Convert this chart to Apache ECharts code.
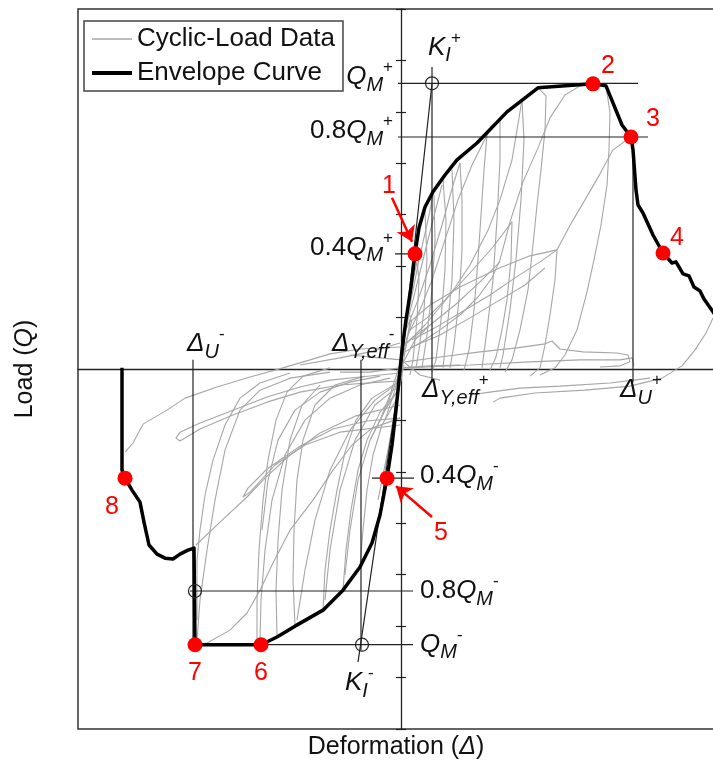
<!DOCTYPE html>
<html><head><meta charset="utf-8">
<script src="https://cdn.jsdelivr.net/npm/echarts@6/dist/echarts.min.js"></script>
<style>html,body{margin:0;padding:0;background:#fff}#c{width:713px;height:761px}</style>
</head><body><div id="c"></div>
<script>
// ---------- data (deformation units, load in % of QM+) ----------
const envelope = [[-27.9,0.4],[-27.9,-35.4],[-27.6,-38.2],[-26.9,-42.4],[-26.1,-46.6],[-25.7,-53.6],[-25.2,-61.6],[-24.4,-64.8],[-23.6,-66.2],[-22.8,-66.5],[-22.1,-64.8],[-21.3,-63.4],[-20.7,-62.7],[-20.6,-96.5],[-14.0,-96.5],[-12.4,-93.8],[-10.6,-90.0],[-7.8,-84.4],[-5.8,-77.4],[-4.1,-69.3],[-2.9,-60.9],[-2.1,-51.1],[-1.4,-38.2],[-0.9,-26.6],[-0.5,-14.4],[-0.2,-3.9],[0.1,6.7],[0.5,17.2],[1.0,28.7],[1.4,40.3],[1.8,49.4],[2.4,56.7],[3.2,62.0],[4.4,67.9],[5.6,73.2],[7.6,79.1],[10.6,90.0],[13.7,98.4],[19.2,99.8],[20.5,99.1],[22.1,85.4],[23.0,81.2],[23.2,76.7],[23.5,62.7],[23.7,57.4],[24.2,54.6],[25.2,46.9],[26.2,40.6],[27.1,37.1],[27.5,37.5],[28.2,33.3],[28.8,32.6],[29.3,28.7],[29.9,27.3],[30.3,24.5],[31.2,20.0],[31.5,18.5]];

const g1 = [[0.4,6.0],[1.9,9.1],[3.9,13.7],[5.9,18.9],[7.7,25.2],[9.1,31.9],[9.9,38.2],[10.9,51.5],[12.2,65.5],[13.7,77.4],[14.9,87.9],[16.4,95.9],[17.9,99.1],[19.2,99.8]];
const g2 = [[20.5,99.1],[20.9,89.6],[20.8,76.7],[20.6,64.4],[20.0,50.4],[19.3,38.2],[18.6,27.0],[17.6,13.7],[16.4,4.9],[15.4,0.4],[13.9,-2.1]];
const g3 = [[13.7,98.4],[14.5,95.6],[14.4,83.7],[14.0,69.7],[13.6,57.4],[13.2,43.4],[12.7,27.7],[11.9,13.7],[11.1,3.2],[10.4,-1.1]];
const g4 = [[1.1,10.2],[3.4,14.4],[5.9,19.6],[8.9,25.9],[11.4,31.9],[13.9,37.5],[15.6,41.7],[17.1,51.5],[18.4,59.2],[19.9,68.3],[21.2,76.7],[23.0,81.2]];
const g5 = [[15.6,41.7],[15.4,31.2],[14.9,18.9],[14.4,8.4],[13.9,0.4],[12.9,-2.5]];
const g6 = [[0.9,13.7],[2.6,17.9],[4.4,24.2],[6.9,33.6],[9.2,42.7],[11.1,51.5]];
const g7 = [[11.1,51.5],[11.0,38.2],[10.6,24.2],[10.1,13.7],[9.5,4.2],[8.9,-0.4]];
const g8 = [[0.9,16.5],[2.9,22.4],[5.9,28.7],[9.9,35.4],[12.9,39.6],[15.6,41.7]];
const g9 = [[0.7,11.9],[1.9,20.7],[3.1,31.2],[4.4,45.2],[5.7,59.2],[7.1,71.4],[8.6,81.9],[9.9,87.9]];
const g10 = [[8.6,81.9],[8.3,69.7],[8.0,53.9],[7.7,38.2],[7.3,20.7],[6.8,6.7],[6.3,-0.4]];
const g11 = [[0.5,13.7],[1.7,24.2],[2.9,36.4],[4.1,50.4],[5.2,64.4],[5.9,72.1]];
const g12 = [[5.9,72.1],[6.1,59.2],[6.1,41.7],[5.8,24.2],[5.3,8.4],[4.9,0.4]];
const g13 = [[0.3,11.9],[1.2,24.2],[2.2,38.2],[3.2,52.2],[4.1,64.4]];
const g14 = [[4.2,66.2],[4.5,52.2],[4.4,34.7],[4.0,17.2],[3.5,3.2],[3.1,-1.1]];
const g15 = [[0.2,10.2],[1.0,24.2],[1.8,38.2],[2.7,52.2],[3.2,60.9]];
const g16 = [[3.3,60.9],[3.4,45.2],[3.1,27.7],[2.6,11.9],[2.1,0.4]];
const g17 = [[0.1,3.2],[0.6,17.2],[1.1,29.4],[1.6,37.5],[1.8,31.2],[1.6,17.2],[1.2,3.2],[0.9,-2.1]];
const g18 = [[0.4,2.5],[3.9,4.2],[7.9,6.0],[11.6,7.4],[14.4,8.8],[15.1,9.8],[15.9,7.0],[18.2,6.0],[21.6,5.6],[22.7,4.9],[22.9,2.5],[21.9,1.1],[19.9,0.7]];
const g19 = [[0.4,0.4],[6.9,1.4],[12.9,2.5],[17.9,3.2],[21.9,3.2],[23.1,3.9],[23.3,1.1]];
const g20 = [[31.2,17.9],[30.5,12.6],[29.4,6.7],[28.1,1.1],[26.1,-3.2],[22.9,-6.0],[18.4,-7.4],[13.4,-8.4],[9.9,-10.2],[9.2,-11.6]];
const g21 = [[24.9,-3.2],[20.9,-4.9],[15.9,-6.0],[11.9,-6.7],[8.9,-8.1],[6.9,-9.1]];
const u1 = [[2.4,55.3],[2.6,38.2],[2.3,20.7],[1.8,6.7],[1.5,0.4]];
const u2 = [[5.1,69.7],[5.3,52.2],[5.1,31.2],[4.6,13.7],[4.2,0.4]];
const u3 = [[9.9,87.9],[9.9,73.2],[9.6,52.2],[9.2,31.2],[8.6,13.7],[8.1,0.4]];
const u4 = [[12.1,94.2],[12.3,80.2],[12.0,59.2],[11.5,38.2],[10.9,20.7],[10.2,4.9],[9.9,0.4]];
const l1 = [[0.4,8.4],[2.4,15.4],[4.9,25.9],[6.9,36.4],[8.7,48.6],[9.9,59.2],[11.1,73.2],[12.1,94.2]];
const f1 = [[0.9,7.4],[3.9,11.9],[6.9,17.9],[9.9,24.2],[12.4,29.4],[14.4,35.4]];
const f2 = [[0.5,9.1],[2.9,15.4],[5.4,22.4],[7.9,30.5],[9.9,37.5]];
const h1 = [[-27.6,-29.1],[-26.8,-25.9],[-25.8,-19.3],[-23.4,-14.4],[-21.6,-10.2],[-18.4,-6.3],[-15.1,-2.8],[-11.8,0.4],[-9.1,3.2],[-7.1,5.3],[-4.1,7.0],[-0.1,7.7]];
const h2 = [[-0.1,-1.4],[-4.1,-2.8],[-7.1,-3.9],[-10.1,-6.3],[-13.4,-9.8],[-16.8,-14.4],[-20.1,-18.9],[-22.1,-22.1],[-22.5,-24.2],[-22.1,-25.2],[-20.1,-21.0],[-16.8,-16.1],[-13.4,-11.6],[-10.1,-8.1],[-6.1,-5.6],[-2.1,-4.6],[-0.1,-4.2]];
const h3 = [[-0.1,-17.2],[-3.4,-18.2],[-6.8,-21.0],[-10.1,-27.0],[-13.4,-35.0],[-15.3,-41.7],[-15.8,-44.8],[-15.1,-43.1],[-12.6,-33.6],[-9.6,-26.6],[-6.1,-22.1],[-0.1,-19.6]];
const h4 = [[-20.6,-96.3],[-19.4,-95.9],[-17.1,-91.4],[-15.4,-85.4],[-14.1,-77.4],[-12.8,-67.9],[-11.1,-56.4],[-8.8,-45.9],[-6.8,-35.4],[-4.9,-26.6],[-2.9,-20.7],[-0.1,-17.2]];
const h5 = [[-14.4,-96.3],[-14.4,-80.9],[-14.2,-63.4],[-13.8,-45.9],[-13.3,-31.9],[-12.5,-17.9],[-11.4,-8.1],[-9.8,-2.5],[-7.1,0.4]];
const h6 = [[-20.4,-87.9],[-20.4,-66.9],[-20.1,-56.4],[-19.6,-44.1],[-18.8,-31.9],[-17.6,-19.6],[-16.1,-10.2],[-14.1,-4.9],[-11.1,-1.4]];
const h7 = [[-20.5,-61.6],[-18.1,-53.6],[-15.4,-44.8],[-13.6,-38.2],[-11.1,-30.1],[-8.1,-22.4],[-4.6,-16.5],[-0.1,-12.6]];
const h8 = [[-7.8,-84.4],[-7.6,-70.4],[-7.1,-56.4],[-6.4,-42.4],[-5.6,-29.1],[-4.5,-17.9],[-2.9,-10.2],[-0.6,-5.3]];
const h9 = [[-5.8,-77.4],[-5.5,-63.4],[-5.0,-49.4],[-4.3,-35.4],[-3.4,-24.9],[-2.1,-15.1],[-0.4,-8.1]];
const h10 = [[-4.1,-69.3],[-3.8,-56.4],[-3.4,-42.4],[-2.8,-30.1],[-1.9,-19.6],[-0.5,-10.9]];
const h11 = [[-0.6,-5.6],[-2.6,-10.9],[-5.1,-21.4],[-7.1,-35.4],[-8.6,-52.9],[-9.6,-70.4],[-10.4,-87.9]];
const h12 = [[-1.1,-3.2],[-4.1,-5.6],[-7.1,-10.2],[-9.6,-17.9],[-11.6,-30.1],[-12.9,-45.9],[-13.6,-63.4],[-14.0,-80.9],[-14.1,-94.9]];
const h13 = [[-7.1,-1.1],[-11.1,-3.2],[-14.1,-7.4],[-16.1,-14.4],[-17.6,-28.4],[-18.6,-45.9],[-19.4,-63.4],[-20.1,-80.9],[-20.4,-94.9]];
const n1 = [[-2.1,-2.5],[-5.1,-4.6],[-8.1,-8.1],[-10.6,-14.4],[-12.3,-24.9],[-13.3,-38.9],[-13.9,-56.4]];
const n2 = [[-10.6,-90.0],[-10.8,-73.9],[-10.7,-56.4],[-10.4,-38.9],[-9.8,-24.9],[-8.6,-12.6],[-6.6,-5.6],[-3.6,-2.5]];
const n3 = [[-12.4,-93.8],[-12.5,-77.4],[-12.3,-59.9],[-11.9,-42.4],[-11.1,-24.9],[-9.9,-12.6],[-8.1,-5.6]];
const n4 = [[-0.3,-7.4],[-1.6,-14.4],[-3.1,-24.9],[-4.3,-38.9],[-5.1,-56.4],[-5.6,-72.1]];
const n5 = [[-0.5,-6.7],[-2.6,-12.6],[-4.6,-24.9],[-6.1,-42.4],[-7.1,-63.4],[-7.6,-80.9]];
const p1 = [[-10.1,1.4],[-6.1,3.9],[-3.1,6.0],[-0.1,9.1]];
const o1 = [[-2.1,-17.9],[-1.1,-9.1],[-0.3,-0.4],[0.4,8.4],[1.1,17.2],[0.7,11.9],[0.1,3.2],[-0.6,-7.4],[-1.6,-17.9]];
const o2 = [[-3.1,-24.9],[-1.6,-14.4],[-0.6,-5.6],[0.1,1.4],[1.4,10.2],[2.9,15.4]];
const o3 = [[-6.1,-1.1],[-3.1,-1.1],[-0.1,0.4],[2.9,1.1],[5.9,1.4]];
const o4 = [[-5.1,4.9],[-2.1,3.9],[0.0,3.2],[1.9,-2.1],[3.9,-3.9]];
const o5 = [[-1.6,-35.4],[-1.1,-24.9],[-0.5,-10.9],[0.1,-0.4],[0.6,10.2],[1.0,18.9]];
const o6 = [[-2.3,-45.9],[-1.7,-35.4],[-0.9,-21.4],[-0.3,-9.1],[0.3,1.4]];
const cyclic = [g1,g2,g3,g4,g5,g6,g7,g8,g9,g10,g11,g12,g13,g14,g15,g16,g17,g18,g19,g20,g21,u1,u2,u3,u4,l1,f1,f2,
  h1,h2,h3,h4,h5,h6,h7,h8,h9,h10,h11,h12,h13,n1,n2,n3,n4,n5,p1,o1,o2,o3,o4,o5,o6];

// key points 1..8
const keyNames = ['1','2','3','4','5','6','7','8'];
const keyPoints = [[1.4,40.3],[19.2,99.8],[23.0,81.2],[26.2,40.6],[-1.4,-38.2],[-14.0,-96.5],[-20.6,-96.5],[-27.6,-38.2]];
const keyLabelAt = [[-1.2,64.1],[20.7,106.1],[25.2,87.5],[27.6,45.9],[4.0,-57.4],[-14.0,-106.4],[-20.6,-106.4],[-28.9,-48.3]];
const arrows = [[[-0.9,59.9],[1.1,44.5]],[[3.1,-51.8],[-0.5,-41.0]]];

// guide lines
const levelLines = [[[-0.3,100],[23.7,100]],[[-0.3,81.2],[24.7,81.2]],[[-0.6,40.3],[0.7,40.3]],[[-2.9,-38.2],[1.3,-38.2]],[[-21.1,-77.7],[1.2,-77.7]],[[-20.6,-96.5],[1.2,-96.5]]];
const deltaLines = [[[3.1,105.7],[3.1,-4.6]],[[23.2,81.2],[23.2,-4.6]],[[-20.8,3.2],[-20.8,-96.5]],[[-4.0,3.2],[-4.0,-98.4]]];
const stiffLines = [[[0,0],[3.1,100]],[[0,0],[-4.3,-102.6]]];
const circlePts = [[3.1,100],[-20.6,-77.7],[-3.9,-96.5]];

// text annotations: [rich text, d, Q, side]
const annoTexts = [
  ['{i|Q}{sb|M}{sp|+}', -0.8, 102.2, 'left'],
  ['{n|0.8}{i|Q}{sb|M}{sp|+}', -0.8, 83.3, 'left'],
  ['{n|0.4}{i|Q}{sb|M}{sp|+}', -0.8, 42.4, 'left'],
  ['{n|0.4}{i|Q}{sb|M}{sp|-}', 1.9, -37.5, 'right'],
  ['{n|0.8}{i|Q}{sb|M}{sp|-}', 1.9, -77.7, 'right'],
  ['{i|Q}{sb|M}{sp|-}', 1.9, -96.5, 'right'],
  ['{i|K}{sb|I}{sp|+}', 2.7, 112.4, 'right'],
  ['{i|K}{sb|I}{sp|-}', -5.6, -109.9, 'right'],
  ['{i|Δ}{sb|Y,eff}{sp|+}', 2.1, -7.4, 'right'],
  ['{i|Δ}{sb|U}{sp|+}', 21.9, -7.4, 'right'],
  ['{i|Δ}{sb|U}{sp|-}', -21.4, 8.75, 'right'],
  ['{i|Δ}{sb|Y,eff}{sp|-}', -6.9, 8.75, 'right']
];

const X_MIN = -32.3, X_MAX = 31.3, Y_MIN = -126, Y_MAX = 126, Y_STEP = 18;

// ---------- chart ----------
const FONT = "'Liberation Sans', Arial, sans-serif";
const INK = '#111';
const GRAY = '#a6a6a6';
const rich = {
  n: {fontSize: 26, lineHeight: 36, verticalAlign: 'middle', color: INK, fontFamily: FONT},
  i: {fontSize: 26, fontStyle: 'italic', lineHeight: 36, verticalAlign: 'middle', color: INK, fontFamily: FONT},
  sb: {fontSize: 20, fontStyle: 'italic', lineHeight: 20, verticalAlign: 'bottom', color: INK, fontFamily: FONT},
  sp: {fontSize: 17, lineHeight: 17, verticalAlign: 'top', color: INK, fontFamily: FONT}
};

const series = [];
cyclic.forEach(c => series.push({
  type: 'line', name: 'Cyclic-Load Data', data: c, symbol: 'none', showSymbol: false,
  color: GRAY, lineStyle: {color: GRAY, width: 1.1}, silent: true, z: 2, animation: false
}));
[...levelLines, ...deltaLines, ...stiffLines].forEach(l => series.push({
  type: 'line', name: 'guide', data: l, symbol: 'none', showSymbol: false,
  lineStyle: {color: '#222', width: 1.2}, silent: true, z: 3, animation: false
}));
series.push({
  type: 'line', name: 'Envelope Curve', data: envelope, symbol: 'none', showSymbol: false,
  color: '#000', lineStyle: {color: '#000', width: 3.5, join: 'round'}, silent: true, z: 5, animation: false
});
series.push({
  type: 'scatter', name: 'circles', data: circlePts, symbol: 'circle', symbolSize: 13,
  itemStyle: {color: 'rgba(0,0,0,0)', borderColor: '#222', borderWidth: 1.2, opacity: 1}, silent: true, z: 6
});
series.push({
  type: 'scatter', name: 'points', data: keyPoints, symbolSize: 15,
  itemStyle: {color: '#ff0000', opacity: 1}, silent: true, z: 8
});
series.push({
  type: 'line', name: 'arrows', data: [], silent: true, z: 9,
  markLine: {
    silent: true, symbol: ['none', 'arrow'], symbolSize: 15, animation: false, z: 9,
    label: {show: false}, lineStyle: {color: '#ff0000', width: 2.5, type: 'solid', opacity: 1},
    itemStyle: {color: '#ff0000'},
    data: arrows.map(a => [{coord: a[0]}, {coord: a[1]}])
  }
});
series.push({
  type: 'scatter', name: 'pointLabels', symbolSize: 0, silent: true, z: 9,
  itemStyle: {opacity: 1},
  data: keyLabelAt.map((p, k) => ({value: p, name: keyNames[k]})),
  label: {show: true, position: 'inside', formatter: '{b}', color: '#ff0000', fontSize: 25, fontFamily: FONT}
});
series.push({
  type: 'scatter', name: 'annotations', symbolSize: 0, silent: true, z: 9,
  itemStyle: {opacity: 1},
  data: annoTexts.map(t => ({value: [t[1], t[2]], label: {position: t[3], formatter: t[0]}})),
  label: {show: true, distance: 0, color: INK, rich: rich}
});

const chart = echarts.init(document.getElementById('c'), null, {renderer: 'canvas'});
chart.setOption({
  animation: false,
  backgroundColor: '#fff',
  textStyle: {fontFamily: FONT},
  grid: {left: 78, right: -1, top: 9, bottom: 32, show: true, borderColor: '#333', borderWidth: 1.5, outerBoundsMode: 'none', containLabel: false},
  legend: {
    data: [
      {name: 'Cyclic-Load Data', lineStyle: {color: GRAY, width: 1.3}},
      {name: 'Envelope Curve', lineStyle: {color: '#000', width: 4}}
    ],
    orient: 'vertical', left: 84, top: 21,
    padding: [5, 8, 5, 6], itemGap: 8, itemWidth: 40, itemHeight: 14,
    itemStyle: {opacity: 0, borderWidth: 0},
    borderColor: '#444', borderWidth: 1.5, backgroundColor: '#fff', selectedMode: false,
    textStyle: {fontSize: 26, color: INK, fontFamily: FONT}
  },
  xAxis: [
    {type: 'value', min: X_MIN, max: X_MAX, position: 'bottom',
     axisLine: {show: false, onZero: false}, axisTick: {show: false}, axisLabel: {show: false}, splitLine: {show: false},
     name: 'Deformation ({i|Δ})', nameLocation: 'middle', nameGap: 6,
     nameTextStyle: {fontSize: 25, color: INK, verticalAlign: 'top', rich: {i: {fontSize: 25, fontStyle: 'italic', color: INK}}}},
    {type: 'value', min: X_MIN, max: X_MAX, position: 'bottom',
     axisLine: {show: true, onZero: true, onZeroAxisIndex: 0, lineStyle: {color: '#222', width: 1.3}},
     axisTick: {show: false}, axisLabel: {show: false}, splitLine: {show: false}}
  ],
  yAxis: [
    {type: 'value', min: Y_MIN, max: Y_MAX, interval: Y_STEP, position: 'left',
     axisLine: {show: false, onZero: false}, axisTick: {show: false}, axisLabel: {show: false}, splitLine: {show: false},
     name: 'Load ({i|Q})', nameLocation: 'middle', nameGap: 40, nameRotate: 90,
     nameTextStyle: {fontSize: 25, color: INK, rich: {i: {fontSize: 25, fontStyle: 'italic', color: INK}}}},
    {type: 'value', min: Y_MIN, max: Y_MAX, interval: Y_STEP, position: 'left',
     axisLine: {show: true, onZero: true, onZeroAxisIndex: 0, lineStyle: {color: '#222', width: 1.3}},
     axisTick: {show: true, length: 5, lineStyle: {color: '#222', width: 1.2}}, axisLabel: {show: false}, splitLine: {show: false}},
    {type: 'value', min: Y_MIN, max: Y_MAX, interval: Y_STEP, position: 'right',
     axisLine: {show: false, onZero: true, onZeroAxisIndex: 0},
     axisTick: {show: true, length: 5, lineStyle: {color: '#222', width: 1.2}}, axisLabel: {show: false}, splitLine: {show: false}}
  ],
  series: series
});
</script></body></html>
